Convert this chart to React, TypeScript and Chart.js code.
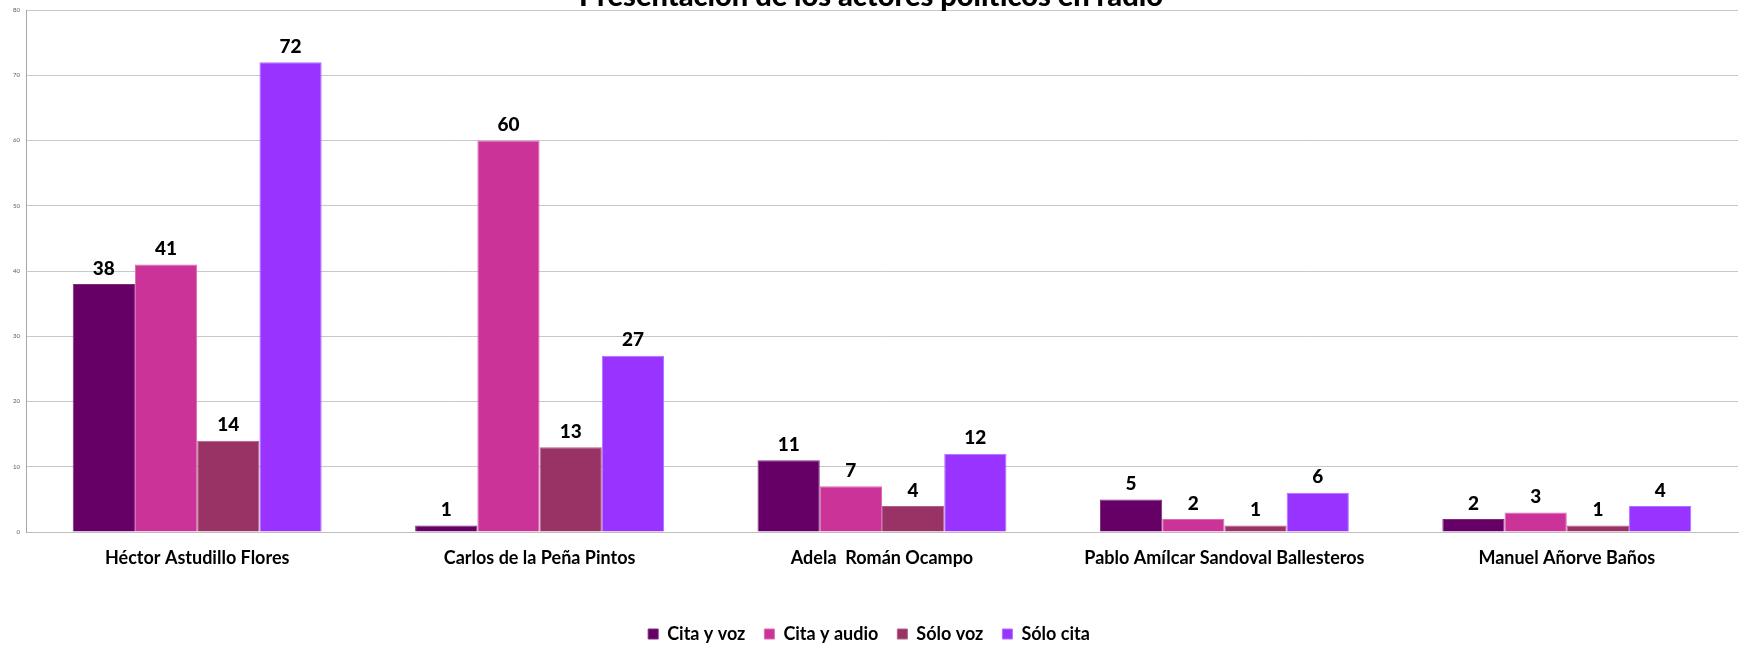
import React, { useEffect, useRef } from "react";
import { Chart, registerables } from "chart.js";

Chart.register(...registerables);

const TITLE = "Presentación de los actores políticos en radio";
const CATEGORIES = [
  "Héctor Astudillo Flores",
  "Carlos de la Peña Pintos",
  "Adela  Román Ocampo",
  "Pablo Amílcar Sandoval Ballesteros",
  "Manuel Añorve Baños",
];
const SERIES_NAMES = ["Cita y voz", "Cita y audio", "Sólo voz", "Sólo cita"];
const CITA_Y_VOZ = [38, 1, 11, 5, 2];
const CITA_Y_AUDIO = [41, 60, 7, 2, 3];
const SOLO_VOZ = [14, 13, 4, 1, 1];
const SOLO_CITA = [72, 27, 12, 6, 4];
const SERIES_VALUES = [CITA_Y_VOZ, CITA_Y_AUDIO, SOLO_VOZ, SOLO_CITA];
const COLORS = ["#660066", "#cc3399", "#993366", "#9933ff"];
const BORDERS = ["#7d2d7d", "#dd6ab2", "#b06088", "#b070ff"];
const Y_MIN = 0;
const Y_MAX = 80;
const Y_STEP = 10;

const FONT = "Lato, 'Open Sans', sans-serif";

const W = 1746;
const H = 645;

const titlePlugin = {
  id: "clippedTitle",
  afterDraw(chart: any) {
    const ctx = chart.ctx;
    ctx.save();
    ctx.font = `900 29px ${FONT}`;
    ctx.fillStyle = "#000000";
    ctx.textAlign = "center";
    ctx.textBaseline = "alphabetic";
    ctx.fillText(TITLE, 871, 5.5);
    ctx.restore();
  },
};

const valueLabelPlugin = {
  id: "valueLabels",
  afterDatasetsDraw(chart: any) {
    const ctx = chart.ctx;
    ctx.save();
    ctx.font = `900 19px ${FONT}`;
    ctx.fillStyle = "#000000";
    ctx.textAlign = "center";
    ctx.textBaseline = "bottom";
    chart.data.datasets.forEach((ds: any, di: number) => {
      const meta = chart.getDatasetMeta(di);
      meta.data.forEach((el: any, i: number) => {
        ctx.fillText(String(ds.data[i]), el.x, el.y - 6);
      });
    });
    ctx.restore();
  },
};

export default function App() {
  const ref = useRef<HTMLCanvasElement | null>(null);

  useEffect(() => {
    if (!ref.current) return;
    const chart = new Chart(ref.current, {
      type: "bar",
      data: {
        labels: CATEGORIES,
        datasets: SERIES_NAMES.map((name, i) => ({
          label: name,
          data: SERIES_VALUES[i],
          backgroundColor: COLORS[i],
          borderColor: BORDERS[i],
          borderWidth: 1,
          categoryPercentage: 0.727,
          barPercentage: 1,
        })),
      },
      options: {
        animation: false,
        responsive: false,
        maintainAspectRatio: false,
        layout: { padding: { left: 0, right: 8, top: 10, bottom: -8 } },
        plugins: {
          title: { display: false },
          tooltip: { enabled: false },
          legend: {
            display: true,
            position: "bottom",
            labels: {
              boxWidth: 10,
              boxHeight: 10,
              padding: 19,
              color: "#000000",
              font: { family: FONT, size: 18, weight: "bold" },
            },
          },
        },
        scales: {
          x: {
            grid: { display: false, drawTicks: false },
            border: { display: true, color: "#bfbfbf", width: 1 },
            ticks: {
              color: "#000000",
              padding: 15,
              font: { family: FONT, size: 18, weight: "bold" },
              maxRotation: 0,
              autoSkip: false,
            },
            afterFit(scale: any) {
              scale.height = 74;
            },
          },
          y: {
            min: Y_MIN,
            max: Y_MAX,
            ticks: {
              stepSize: Y_STEP,
              color: "#595959",
              padding: 6,
              font: { family: FONT, size: 6 },
            },
            grid: { color: "#c8c8c8", lineWidth: 1, drawTicks: false },
            border: { display: true, color: "#a6a6a6", width: 1 },
            afterFit(scale: any) {
              scale.width = 26;
            },
          },
        },
      },
      plugins: [titlePlugin, valueLabelPlugin],
    } as any);
    return () => chart.destroy();
  }, []);

  return (
    <div
      style={{
        position: "fixed",
        left: 0,
        top: 0,
        width: W,
        height: H,
        overflow: "hidden",
        background: "#ffffff",
      }}
    >
      <canvas ref={ref} width={W} height={H} style={{ width: W, height: H, display: "block" }} />
    </div>
  );
}
